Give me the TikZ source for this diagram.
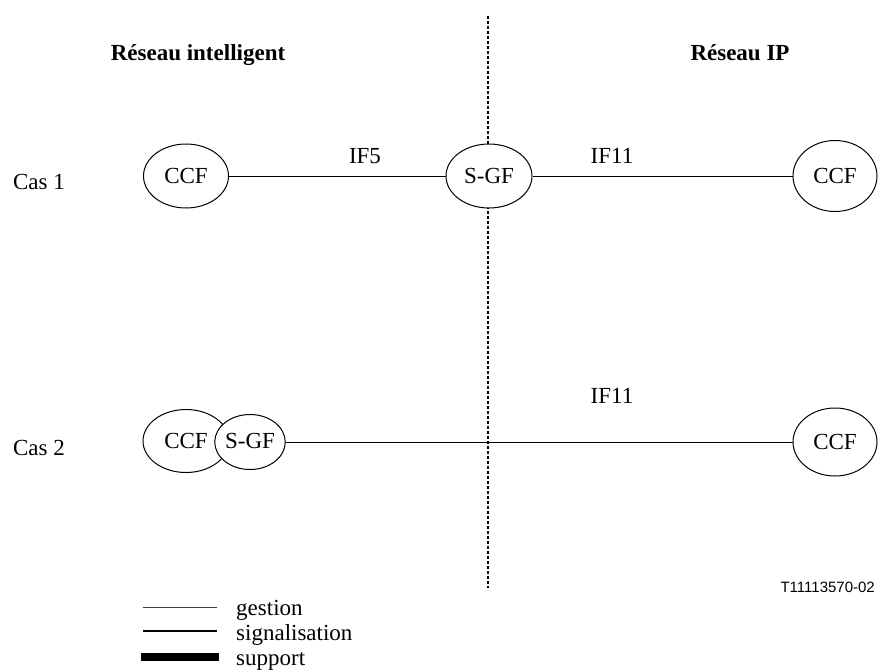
\documentclass[tikz,border=0pt]{standalone}
\usepackage{fontspec}
\setmainfont{Liberation Serif}
\newfontfamily\labelsans{Liberation Sans}
\usetikzlibrary{shapes.geometric}

\tikzset{
  fn/.style={ellipse, draw, line width=1pt, inner sep=0pt, fill=white,
             font=\fontsize{23}{27}\selectfont},
  link/.style={line width=1pt},
  txt/.style={anchor=base, inner sep=0pt, font=\fontsize{23}{27}\selectfont},
  hdr/.style={txt, font=\fontsize{23}{27}\selectfont\bfseries},
  border/.style={line width=2pt, dash pattern=on 3pt off 2pt},
}

\begin{document}
\begin{tikzpicture}[x=1pt, y=-1pt]
\useasboundingbox (0,0) rectangle (880,670);

% boundary between the two networks
\coordinate (top) at (488,16);
\coordinate (bot) at (488,588);
\draw[border] (top) -- (bot);

% headings
\node[hdr] (hIN) at (198,60) {Réseau intelligent};
\node[hdr] (hIP) at (740,60) {Réseau IP};

% case 1
\node[txt] (cas1) at (39,189) {Cas 1};
\node[fn, minimum width=85pt, minimum height=64pt] (ccfA) at (186,176) {CCF};
\node[fn, minimum width=86pt, minimum height=64pt] (sgfA) at (489,176) {S-GF};
\node[fn, minimum width=84pt, minimum height=71pt] (ccfC) at (835,176) {CCF};
\draw[link] (ccfA) -- (sgfA);
\draw[link] (sgfA) -- (ccfC);
\node[txt] (if5) at (365,163) {IF5};
\node[txt] (if11a) at (612,163) {IF11};

% case 2
\node[txt] (cas2) at (39,455) {Cas 2};
\node[fn, minimum width=86pt, minimum height=63pt] (ccfB) at (186,441) {\raisebox{-3pt}{CCF}};
\node[fn, minimum width=65pt, minimum height=55pt] (sgfB) at (250,442) {\raisebox{2pt}{S-GF}};
\node[fn, minimum width=84pt, minimum height=68pt] (ccfD) at (835,442) {CCF};
\draw[link] (sgfB.east) -- (sgfB.east -| ccfD.west);
\node[txt] (if11b) at (612,403) {IF11};

% reference number
\node[anchor=base east, inner sep=0pt, font=\labelsans\fontsize{15}{17}\selectfont]
  (ref) at (875,592) {T11113570-02};

% legend
\coordinate (g1) at (143,607);  \coordinate (g2) at (217,607);
\coordinate (s1) at (143,631);  \coordinate (s2) at (217,631);
\coordinate (p1) at (141,657);  \coordinate (p2) at (219,657);
\draw[line width=0.9pt, black!75] (g1) -- (g2);
\draw[line width=2.6pt] (s1) -- (s2);
\draw[line width=8pt] (p1) -- (p2);
\node[txt, anchor=base west] (lg) at (236,615) {gestion};
\node[txt, anchor=base west] (ls) at (236,640) {signalisation};
\node[txt, anchor=base west] (lp) at (236,665) {support};
\end{tikzpicture}
\end{document}
